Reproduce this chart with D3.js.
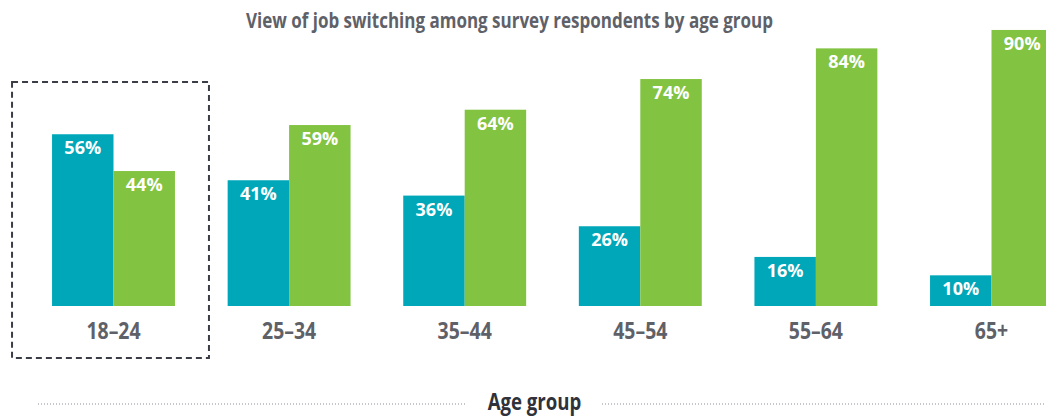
<!DOCTYPE html>
<html>
<head>
<meta charset="utf-8">
<script src="https://cdn.jsdelivr.net/npm/d3@7"></script>
<style>
    html, body { margin: 0; padding: 0; background: #fff; }
    svg { display: block; }
    .title { font-family: 'Open Sans', sans-serif; font-weight: bold; font-size: 21px; fill: #5f6168; }
    .cat-label { font-family: 'Open Sans', sans-serif; font-weight: bold; font-size: 24px; fill: #5f6168; }
    .val-label { font-family: 'Open Sans', sans-serif; font-weight: bold; font-size: 18px; fill: #fff; }
    .axis-title { font-family: 'Open Sans', sans-serif; font-weight: bold; font-size: 23px; fill: #2f323a; }
</style>
</head>
<body>
<div id="chart"></div>
<script>
/* === Job switching by age group (D3.js v7) === */

var AGE_GROUPS = ['18–24', '25–34', '35–44', '45–54', '55–64', '65+'];
var SERIES_KEYS = ['teal', 'green'];
var TEAL_VALUES = [56, 41, 36, 26, 16, 10];
var GREEN_VALUES = [44, 59, 64, 74, 84, 90];
var HIGHLIGHT_GROUP = '18–24';

var COLORS = { teal: '#00a7b8', green: '#82c341' };

var width = 1046;
var height = 418;
var baseline = 306;
var CONDENSE = 0.81;   // squeeze Open Sans towards its condensed cut

var svg = d3.select('#chart')
    .append('svg')
    .attr('width', width)
    .attr('height', height);

// place a text at (x, y) and squeeze it horizontally
function condensedText(parent, cls, x, y, txt) {
    return parent.append('text')
        .attr('class', cls)
        .attr('text-anchor', 'middle')
        .attr('transform', function(d) {
            var xx = typeof x === 'function' ? x(d) : x;
            return 'translate(' + xx + ',' + y + ') scale(' + CONDENSE + ',1)';
        })
        .text(txt);
}

var rows = AGE_GROUPS.map(function(g, i) {
    return { group: g, teal: TEAL_VALUES[i], green: GREEN_VALUES[i] };
});

var x0 = d3.scaleBand()
    .domain(AGE_GROUPS)
    .range([25.7, 25.7 + 6 * 175.6])
    .paddingInner(0.3)
    .paddingOuter(0.15);

var x1 = d3.scaleBand()
    .domain(SERIES_KEYS)
    .range([0, x0.bandwidth()]);

var y = d3.scaleLinear()
    .domain([0, 100])
    .range([baseline, -0.7]);

// Title
condensedText(svg, 'title', 509.5, 27.5, 'View of job switching among survey respondents by age group');

// Highlight box round the first group
var hx = x0(HIGHLIGHT_GROUP);
svg.append('rect')
    .attr('x', hx - 40)
    .attr('y', 82)
    .attr('width', x0.bandwidth() + 74)
    .attr('height', 276)
    .attr('fill', 'none')
    .attr('stroke', '#3a3d45')
    .attr('stroke-width', 2)
    .attr('stroke-dasharray', '6,4');

var groupG = svg.append('g')
    .selectAll('g')
    .data(rows)
    .join('g')
    .attr('transform', function(d) { return 'translate(' + x0(d.group) + ',0)'; });

var bars = groupG.selectAll('g.bar')
    .data(function(d) {
        return SERIES_KEYS.map(function(k) { return { key: k, value: d[k] }; });
    })
    .join('g')
    .attr('class', 'bar');

bars.append('rect')
    .attr('x', function(d) { return x1(d.key); })
    .attr('y', function(d) { return y(d.value); })
    .attr('width', x1.bandwidth())
    .attr('height', function(d) { return baseline - y(d.value); })
    .attr('fill', function(d) { return COLORS[d.key]; });

bars.append('text')
    .attr('class', 'val-label')
    .attr('x', function(d) { return x1(d.key) + x1.bandwidth() / 2; })
    .attr('y', function(d) { return y(d.value) + 20; })
    .attr('text-anchor', 'middle')
    .text(function(d) { return d.value + '%'; });

// Category labels
condensedText(groupG, 'cat-label', x0.bandwidth() / 2, 339, function(d) { return d.group; });

// Axis title with dotted rules either side
svg.append('line')
    .attr('x1', 38).attr('x2', 466)
    .attr('y1', 404).attr('y2', 404)
    .attr('stroke', '#8a8d93')
    .attr('stroke-width', 1)
    .attr('stroke-dasharray', '1,2');

svg.append('line')
    .attr('x1', 602).attr('x2', 1046)
    .attr('y1', 404).attr('y2', 404)
    .attr('stroke', '#8a8d93')
    .attr('stroke-width', 1)
    .attr('stroke-dasharray', '1,2');

condensedText(svg, 'axis-title', 534.5, 410, 'Age group');
</script>
</body>
</html>
